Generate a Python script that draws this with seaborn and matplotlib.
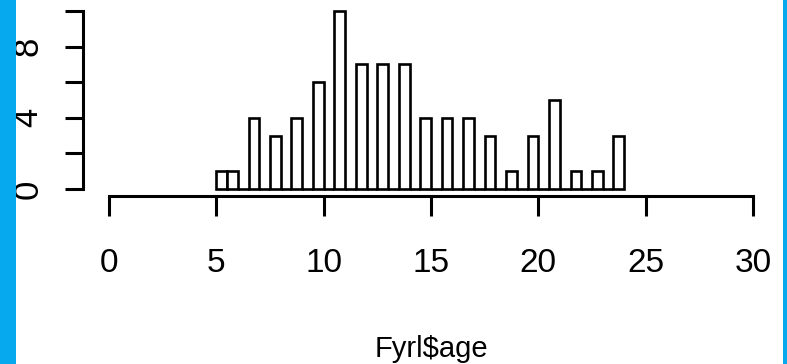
import numpy as np
import pandas as pd
import matplotlib
matplotlib.use("Agg")
import matplotlib.pyplot as plt
from matplotlib.patches import Rectangle
import seaborn as sns

# Histogram of Fyrl$age: bins 0.5 years wide from 5 to 24
bin_left = np.arange(5.0, 24.0, 0.5)
counts = [1, 1, 0, 4, 0, 3, 0, 4, 0, 6,
          0, 10, 0, 7, 0, 7, 0, 7, 0, 4,
          0, 4, 0, 4, 0, 3, 0, 1, 0, 3,
          0, 5, 0, 1, 0, 1, 0, 3]
x_ticks = [0, 5, 10, 15, 20, 25, 30]
y_ticks = [0, 2, 4, 6, 8, 10]
y_tick_labels = ["0", "", "4", "", "8", ""]

df = pd.DataFrame({"age": bin_left + 0.25, "n": counts})

sns.set_style("white")
plt.rcParams["font.family"] = ["Liberation Sans", "DejaVu Sans"]
plt.rcParams["text.color"] = "black"
plt.rcParams["xtick.color"] = "black"
plt.rcParams["ytick.color"] = "black"
plt.rcParams["axes.labelcolor"] = "black"

fig = plt.figure(figsize=(7.87, 3.64), dpi=100)
fig.patch.set_facecolor("white")

# side frames
blue = "#06A9EE"
fig.patches.append(Rectangle((0, 0), 16 / 787, 1, transform=fig.transFigure,
                             facecolor=blue, edgecolor="none", zorder=0))
fig.patches.append(Rectangle((783 / 787, 0), 4 / 787, 1, transform=fig.transFigure,
                             facecolor=blue, edgecolor="none", zorder=0))

ax = fig.add_axes([83.2 / 787, (364 - 196.1) / 364, 695.6 / 787, 192.2 / 364])
ax.set_facecolor("none")

sns.histplot(data=df, x="age", weights="n", binwidth=0.5, binrange=(5, 24),
             stat="count", color="white", edgecolor="black", linewidth=1.9,
             alpha=1, ax=ax)

ax.set_xlim(-1.2, 31.2)
ax.set_ylim(-0.4, 10.4)

for side in ["top", "right"]:
    ax.spines[side].set_visible(False)
for side in ["left", "bottom"]:
    ax.spines[side].set_linewidth(2.2)
    ax.spines[side].set_color("black")
ax.spines["bottom"].set_bounds(0, 30)
ax.spines["left"].set_bounds(0, 10)

ax.set_xticks(x_ticks)
ax.set_xticklabels([str(t) for t in x_ticks])
ax.set_yticks(y_ticks)
ax.set_yticklabels(y_tick_labels, rotation=90, va="center")

ax.tick_params(axis="x", length=14.4, width=2.2, color="black", labelcolor="black",
               labelsize=24, pad=23, direction="out", bottom=True)
ax.tick_params(axis="y", length=13, width=2.2, color="black", labelcolor="black",
               labelsize=25, pad=15, direction="out", left=True)

ax.set_ylabel("")
ax.set_xlabel("Fyrl$age", fontsize=21, color="black")
ax.xaxis.label.set_va("baseline")
ax.xaxis.set_label_coords(0.5, (196.1 - 357) / 192.2)

fig.savefig("out.png", dpi=100, facecolor=fig.get_facecolor())
